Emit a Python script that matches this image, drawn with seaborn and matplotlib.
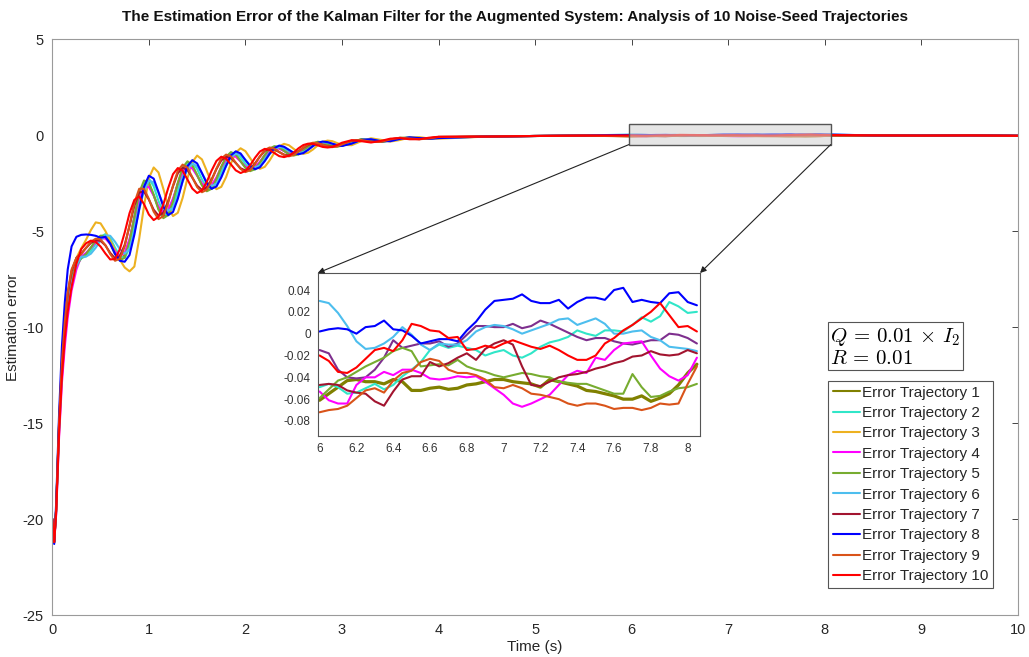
import matplotlib
matplotlib.use("Agg")
import matplotlib.pyplot as plt
import pandas as pd
import seaborn as sns
from matplotlib.lines import Line2D
from matplotlib.patches import Rectangle, ConnectionPatch

# ---------------- data ----------------
time_transient = [0.0, 0.02, 0.04, 0.07, 0.10, 0.13, 0.16, 0.20, 0.25,
                  0.30, 0.35, 0.40, 0.45, 0.50, 0.55, 0.60, 0.65, 0.70, 0.75,
                  0.80, 0.85, 0.90, 0.95, 1.00, 1.05, 1.10, 1.15, 1.20, 1.25,
                  1.30, 1.35, 1.40, 1.45, 1.50, 1.55, 1.60, 1.65, 1.70, 1.75,
                  1.80, 1.85, 1.90, 1.95, 2.00, 2.05, 2.10, 2.15, 2.20, 2.25,
                  2.30, 2.35, 2.40, 2.45, 2.50, 2.55, 2.60, 2.65, 2.70, 2.75,
                  2.80, 2.85, 2.90, 2.95, 3.00,
                  3.1, 3.2, 3.3, 3.4, 3.5, 3.6, 3.7, 3.8, 3.9, 4.0]
time_settle = [4.5, 5.0, 5.5]
settle_err = [-0.08, -0.05, -0.03]
time_zoom = [6.00, 6.05, 6.10, 6.15, 6.20, 6.25, 6.30, 6.35, 6.40, 6.45,
             6.50, 6.55, 6.60, 6.65, 6.70, 6.75, 6.80, 6.85, 6.90, 6.95,
             7.00, 7.05, 7.10, 7.15, 7.20, 7.25, 7.30, 7.35, 7.40, 7.45,
             7.50, 7.55, 7.60, 7.65, 7.70, 7.75, 7.80, 7.85, 7.90, 7.95,
             8.00, 8.05]
time_end = [8.5, 9.0, 9.5, 10.0]
end_err = [-0.02, -0.03, -0.02, -0.04]

err_1 = [-20.0, -21.2, -19.5, -15.2, -12.0, -10.0, -8.6, -7.4, -6.7,
         -6.38, -6.18, -5.87, -5.53, -5.30, -5.31, -5.66, -6.15, -6.44, -6.28,
         -5.50, -4.29, -3.10, -2.50, -2.55, -3.13, -3.83, -4.22, -4.06, -3.40,
         -2.52, -1.78, -1.47, -1.63, -2.10, -2.59, -2.85, -2.72, -2.27, -1.67,
         -1.18, -0.96, -1.06, -1.37, -1.68, -1.83, -1.73, -1.43, -1.05, -0.74,
         -0.62, -0.67, -0.83, -0.98, -1.04, -0.97, -0.81, -0.61, -0.45, -0.37,
         -0.40, -0.48, -0.56, -0.59, -0.55,
         -0.36, -0.23, -0.28, -0.36, -0.28, -0.16, -0.14, -0.20, -0.20, -0.12]
err_2 = [-20.0, -21.2, -19.6, -15.3, -12.2, -10.2, -8.8, -7.6, -6.8,
         -6.42, -6.31, -6.04, -5.66, -5.31, -5.16, -5.38, -5.87, -6.31, -6.41,
         -5.87, -4.73, -3.42, -2.51, -2.26, -2.67, -3.43, -4.06, -4.19, -3.75,
         -2.91, -2.04, -1.48, -1.42, -1.77, -2.31, -2.74, -2.81, -2.50, -1.93,
         -1.35, -0.97, -0.92, -1.16, -1.50, -1.76, -1.79, -1.57, -1.20, -0.84,
         -0.62, -0.59, -0.71, -0.89, -1.00, -1.00, -0.88, -0.69, -0.50, -0.37,
         -0.36, -0.42, -0.51, -0.57, -0.57,
         -0.40, -0.23, -0.25, -0.34, -0.30, -0.17, -0.13, -0.18, -0.20, -0.14]
err_3 = [-20.0, -21.2, -19.5, -15.0, -11.8, -9.8, -8.3, -7.1, -6.4,
         -5.90, -5.45, -4.95, -4.55, -4.60, -5.00, -5.50, -6.00, -6.50, -6.90,
         -7.10, -6.85, -5.40, -3.70, -2.25, -1.69, -1.95, -2.80, -3.72, -4.22,
         -4.05, -3.27, -2.25, -1.41, -1.07, -1.27, -1.87, -2.49, -2.82, -2.70,
         -2.19, -1.48, -0.91, -0.69, -0.84, -1.21, -1.59, -1.76, -1.66, -1.33,
         -0.92, -0.59, -0.46, -0.53, -0.72, -0.90, -0.98, -0.92, -0.75, -0.53,
         -0.36, -0.29, -0.32, -0.42, -0.51,
         -0.53, -0.32, -0.17, -0.25, -0.34, -0.26, -0.13, -0.11, -0.18, -0.19]
err_4 = [-20.0, -21.2, -19.8, -15.8, -12.9, -11.0, -9.5, -8.1, -7.0,
         -6.32, -6.14, -5.88, -5.59, -5.39, -5.39, -5.68, -6.08, -6.30, -6.13,
         -5.41, -4.32, -3.25, -2.69, -2.70, -3.16, -3.73, -4.05, -3.89, -3.31,
         -2.55, -1.90, -1.62, -1.74, -2.12, -2.52, -2.73, -2.61, -2.21, -1.69,
         -1.26, -1.06, -1.13, -1.38, -1.64, -1.76, -1.66, -1.39, -1.06, -0.79,
         -0.68, -0.71, -0.83, -0.96, -1.00, -0.93, -0.79, -0.62, -0.47, -0.40,
         -0.42, -0.48, -0.55, -0.57, -0.53,
         -0.36, -0.25, -0.29, -0.34, -0.27, -0.16, -0.15, -0.19, -0.19, -0.12]
err_5 = [-20.0, -21.2, -19.5, -15.2, -12.1, -10.1, -8.7, -7.5, -6.8,
         -6.41, -6.20, -5.86, -5.48, -5.24, -5.26, -5.65, -6.20, -6.53, -6.39,
         -5.56, -4.27, -3.00, -2.37, -2.45, -3.11, -3.89, -4.33, -4.17, -3.46,
         -2.50, -1.70, -1.37, -1.56, -2.08, -2.63, -2.93, -2.80, -2.30, -1.66,
         -1.13, -0.89, -1.01, -1.36, -1.71, -1.88, -1.78, -1.45, -1.04, -0.71,
         -0.58, -0.64, -0.82, -1.00, -1.07, -1.00, -0.82, -0.61, -0.43, -0.35,
         -0.39, -0.48, -0.57, -0.60, -0.56,
         -0.36, -0.22, -0.28, -0.36, -0.28, -0.15, -0.14, -0.20, -0.20, -0.12]
err_6 = [-20.0, -21.2, -19.6, -15.4, -12.3, -10.3, -8.9, -7.7, -6.8,
         -6.34, -6.33, -6.18, -5.87, -5.48, -5.22, -5.25, -5.56, -5.95, -6.18,
         -5.92, -5.06, -3.90, -2.90, -2.38, -2.46, -3.01, -3.62, -3.95, -3.79,
         -3.21, -2.43, -1.78, -1.50, -1.62, -2.01, -2.44, -2.65, -2.53, -2.13,
         -1.62, -1.17, -0.97, -1.05, -1.31, -1.57, -1.68, -1.59, -1.32, -1.00,
         -0.74, -0.62, -0.66, -0.78, -0.91, -0.95, -0.89, -0.75, -0.58, -0.43,
         -0.38, -0.39, -0.46, -0.52, -0.54,
         -0.43, -0.26, -0.23, -0.31, -0.31, -0.20, -0.14, -0.16, -0.19, -0.15]
err_7 = [-20.0, -21.2, -19.5, -15.1, -11.9, -9.8, -8.3, -7.1, -6.4,
         -6.17, -5.88, -5.62, -5.48, -5.51, -5.75, -6.14, -6.42, -6.30, -5.72,
         -4.73, -3.68, -2.99, -2.95, -3.36, -3.89, -4.20, -4.05, -3.45, -2.67,
         -1.99, -1.70, -1.82, -2.22, -2.64, -2.86, -2.73, -2.31, -1.77, -1.32,
         -1.13, -1.19, -1.46, -1.73, -1.85, -1.76, -1.47, -1.12, -0.83, -0.71,
         -0.75, -0.89, -1.02, -1.07, -1.00, -0.84, -0.66, -0.51, -0.43, -0.44,
         -0.51, -0.59, -0.61, -0.57, -0.48,
         -0.30, -0.27, -0.34, -0.34, -0.23, -0.15, -0.18, -0.21, -0.17, -0.10]
err_8 = [-20.0, -21.3, -19.2, -14.6, -11.0, -8.7, -7.0, -5.8, -5.3,
         -5.20, -5.18, -5.20, -5.25, -5.35, -5.30, -5.65, -6.20, -6.55, -6.60,
         -6.25, -5.19, -3.86, -2.70, -2.12, -2.27, -2.97, -3.74, -4.17, -4.01,
         -3.32, -2.39, -1.62, -1.31, -1.48, -1.98, -2.52, -2.80, -2.68, -2.21,
         -1.60, -1.06, -0.85, -0.96, -1.30, -1.62, -1.78, -1.68, -1.36, -0.98,
         -0.68, -0.55, -0.61, -0.77, -0.93, -1.00, -0.94, -0.77, -0.57, -0.40,
         -0.34, -0.37, -0.45, -0.53, -0.57,
         -0.45, -0.25, -0.22, -0.32, -0.32, -0.20, -0.12, -0.16, -0.20, -0.16]
err_9 = [-20.0, -21.2, -19.5, -15.0, -11.8, -9.7, -8.2, -7.0, -6.4,
         -6.20, -5.87, -5.56, -5.40, -5.44, -5.73, -6.20, -6.55, -6.44, -5.80,
         -4.70, -3.54, -2.80, -2.80, -3.33, -3.99, -4.38, -4.22, -3.54, -2.64,
         -1.86, -1.54, -1.70, -2.20, -2.71, -2.98, -2.85, -2.37, -1.75, -1.23,
         -1.02, -1.11, -1.44, -1.77, -1.93, -1.83, -1.51, -1.11, -0.78, -0.65,
         -0.71, -0.88, -1.04, -1.11, -1.04, -0.86, -0.65, -0.48, -0.40, -0.42,
         -0.51, -0.60, -0.63, -0.59, -0.49,
         -0.29, -0.26, -0.35, -0.36, -0.23, -0.14, -0.18, -0.22, -0.18, -0.10]
err_10 = [-20.0, -21.2, -19.7, -15.6, -12.6, -10.6, -9.2, -7.9, -6.7,
          -5.94, -5.64, -5.50, -5.57, -5.81, -6.17, -6.48, -6.46, -5.95, -5.08,
          -4.07, -3.38, -3.20, -3.60, -4.14, -4.43, -4.26, -3.62, -2.77, -2.04,
          -1.72, -1.86, -2.32, -2.79, -3.02, -2.89, -2.44, -1.85, -1.35, -1.13,
          -1.24, -1.53, -1.84, -1.98, -1.87, -1.57, -1.18, -0.86, -0.72, -0.78,
          -0.94, -1.10, -1.15, -1.08, -0.91, -0.69, -0.52, -0.45, -0.46, -0.54,
          -0.62, -0.65, -0.62, -0.52, -0.40,
          -0.27, -0.32, -0.39, -0.31, -0.19, -0.16, -0.22, -0.22, -0.14, -0.09]

zoom_1 = [-0.061, -0.055, -0.049, -0.043, -0.042, -0.044, -0.044, -0.046, -0.042, -0.044,
          -0.052, -0.052, -0.050, -0.049, -0.051, -0.050, -0.047, -0.046, -0.044, -0.042,
          -0.042, -0.044, -0.045, -0.046, -0.049, -0.042, -0.044, -0.046, -0.048, -0.052,
          -0.053, -0.055, -0.057, -0.060, -0.060, -0.057, -0.062, -0.059, -0.055, -0.047,
          -0.036, -0.028]
zoom_2 = [-0.049, -0.046, -0.049, -0.055, -0.054, -0.050, -0.046, -0.051, -0.047, -0.039,
          -0.033, -0.026, -0.015, -0.010, -0.013, -0.011, -0.013, -0.015, -0.020, -0.017,
          -0.015, -0.020, -0.022, -0.018, -0.012, -0.008, -0.006, -0.003, 0.003, 0.000,
          -0.002, 0.003, 0.003, 0.002, 0.008, 0.015, 0.011, 0.016, 0.029, 0.025,
          0.019, 0.020]
zoom_3 = [-0.015, -0.018, -0.033, -0.040, -0.041, -0.040, -0.033, -0.022, -0.006, -0.013,
          -0.011, -0.009, -0.009, -0.007, -0.012, -0.009, -0.001, 0.007, 0.007, 0.006,
          0.006, 0.009, 0.005, 0.007, 0.012, 0.009, 0.005, 0.001, -0.003, -0.006,
          -0.004, -0.004, -0.007, -0.009, -0.010, -0.008, -0.006, -0.006, 0.000, -0.001,
          -0.004, -0.009]
zoom_4 = [-0.053, -0.061, -0.064, -0.064, -0.047, -0.040, -0.040, -0.035, -0.038, -0.033,
          -0.033, -0.036, -0.041, -0.042, -0.041, -0.039, -0.040, -0.039, -0.044, -0.050,
          -0.056, -0.064, -0.067, -0.064, -0.060, -0.056, -0.047, -0.038, -0.034, -0.036,
          -0.022, -0.024, -0.015, -0.009, -0.008, -0.007, -0.020, -0.032, -0.039, -0.043,
          -0.038, -0.022]
zoom_5 = [-0.059, -0.051, -0.043, -0.040, -0.035, -0.030, -0.026, -0.022, -0.016, -0.013,
          -0.016, -0.030, -0.029, -0.028, -0.029, -0.024, -0.030, -0.033, -0.035, -0.038,
          -0.040, -0.038, -0.036, -0.037, -0.039, -0.040, -0.044, -0.045, -0.046, -0.046,
          -0.049, -0.052, -0.055, -0.055, -0.037, -0.049, -0.058, -0.057, -0.053, -0.050,
          -0.049, -0.046]
zoom_6 = [0.030, 0.028, 0.019, 0.007, -0.007, -0.014, -0.013, -0.009, -0.003, 0.006,
          -0.001, -0.010, -0.015, -0.009, -0.010, -0.010, -0.006, 0.002, 0.006, 0.008,
          0.007, 0.004, 0.000, 0.003, 0.006, 0.009, 0.013, 0.014, 0.008, 0.011,
          0.014, 0.009, 0.000, 0.000, 0.002, 0.003, -0.003, -0.006, -0.012, -0.013,
          -0.014, -0.016]
zoom_7 = [-0.047, -0.046, -0.047, -0.052, -0.054, -0.055, -0.062, -0.066, -0.053, -0.042,
          -0.039, -0.039, -0.026, -0.030, -0.027, -0.022, -0.018, -0.024, -0.014, -0.009,
          -0.006, -0.010, -0.030, -0.047, -0.048, -0.044, -0.040, -0.038, -0.037, -0.035,
          -0.032, -0.030, -0.027, -0.025, -0.021, -0.020, -0.016, -0.019, -0.020, -0.019,
          -0.015, -0.018]
zoom_8 = [0.002, 0.004, 0.005, 0.004, 0.000, 0.006, 0.007, 0.012, 0.004, 0.003,
          -0.002, -0.009, -0.007, -0.005, -0.005, -0.007, 0.003, 0.011, 0.022, 0.030,
          0.031, 0.032, 0.036, 0.030, 0.028, 0.028, 0.031, 0.023, 0.029, 0.033,
          0.033, 0.031, 0.040, 0.042, 0.029, 0.031, 0.029, 0.028, 0.037, 0.038,
          0.029, 0.026]
zoom_9 = [-0.072, -0.070, -0.069, -0.066, -0.059, -0.052, -0.050, -0.054, -0.043, -0.036,
          -0.034, -0.026, -0.023, -0.025, -0.033, -0.036, -0.036, -0.038, -0.042, -0.049,
          -0.050, -0.047, -0.050, -0.055, -0.056, -0.058, -0.060, -0.064, -0.066, -0.064,
          -0.064, -0.066, -0.069, -0.068, -0.068, -0.070, -0.068, -0.064, -0.065, -0.064,
          -0.046, -0.030]
zoom_10 = [-0.020, -0.025, -0.035, -0.036, -0.031, -0.023, -0.015, -0.013, -0.016, -0.006,
           0.009, 0.007, 0.003, 0.002, -0.004, -0.003, -0.015, -0.014, -0.011, -0.013,
           -0.009, -0.006, -0.009, -0.012, -0.014, -0.011, -0.015, -0.020, -0.024, -0.024,
           -0.020, -0.009, -0.004, 0.003, 0.008, 0.014, 0.020, 0.028, 0.017, 0.006,
           0.007, 0.002]

labels = ["Error Trajectory %d" % i for i in range(1, 11)]
colors = ["#808000", "#30E6C8", "#EDB120", "#FF00FF", "#77AC30",
          "#4DBEEE", "#A2142F", "#0000FF", "#D95319", "#FF0000"]
inset_colors = ["#808000", "#30E6C8", "#7E2F8E", "#FF00FF", "#77AC30",
                "#4DBEEE", "#A2142F", "#0000FF", "#D95319", "#FF0000"]

transients = [err_1, err_2, err_3, err_4, err_5, err_6, err_7, err_8, err_9, err_10]
zooms = [zoom_1, zoom_2, zoom_3, zoom_4, zoom_5, zoom_6, zoom_7, zoom_8, zoom_9, zoom_10]

frames = []
for lab, tr, zm in zip(labels, transients, zooms):
    t = time_transient + time_settle + time_zoom + time_end
    v = tr + settle_err + zm + end_err
    frames.append(pd.DataFrame({"Time": t, "Error": v, "Trajectory": lab}))
df = pd.concat(frames, ignore_index=True)
df_zoom = df[(df["Time"] >= 5.9) & (df["Time"] <= 8.2)]

# ---------------- styling ----------------
sns.set_theme(style="white")
plt.rcParams["font.family"] = ["Liberation Sans", "DejaVu Sans"]
plt.rcParams["mathtext.fontset"] = "cm"
plt.rcParams["axes.unicode_minus"] = False

fig = plt.figure(figsize=(10.29, 6.57), dpi=100)
ax = fig.add_axes([0.0508, 0.0639, 0.9385, 0.8767])

sns.lineplot(data=df, x="Time", y="Error", hue="Trajectory", hue_order=labels,
             palette=dict(zip(labels, colors)), estimator=None, sort=False,
             linewidth=1.5, legend=False, ax=ax)

ax.set_xlim(0, 10)
ax.set_ylim(-25, 5)
ax.set_xticks(range(0, 11))
ax.set_yticks([-25, -20, -15, -10, -5, 0, 5])
ax.tick_params(direction="in", length=4, top=True, right=True, pad=6,
               labelsize=10.5, colors="#262626", width=0.6)
for s in ax.spines.values():
    s.set_color("#9a9a9a")
    s.set_linewidth(0.8)
ax.set_xlabel("Time (s)", fontsize=11, color="#262626", labelpad=2)
ax.set_ylabel("Estimation error", fontsize=11, color="#262626", labelpad=2)
ax.set_title("The Estimation Error of the Kalman Filter for the Augmented System: "
             "Analysis of 10 Noise-Seed Trajectories",
             fontsize=11, fontweight="bold", pad=13, color="#111111", x=0.479)

# zoom rectangle
rect = Rectangle((5.97, -0.5), 2.09, 1.05, facecolor=(0.82, 0.82, 0.82, 0.55),
                 edgecolor="#555555", linewidth=1.0, zorder=5)
ax.add_patch(rect)

# inset
axins = fig.add_axes([0.3088, 0.3368, 0.3715, 0.2477])
sns.lineplot(data=df_zoom, x="Time", y="Error", hue="Trajectory", hue_order=labels,
             palette=dict(zip(labels, inset_colors)), estimator=None, sort=False,
             linewidth=1.5, legend=False, ax=axins)
axins.lines[0].set_linewidth(2.3)
axins.set_xlim(5.99, 8.067)
axins.set_ylim(-0.0935, 0.0556)
axins.set_xticks([6, 6.2, 6.4, 6.6, 6.8, 7, 7.2, 7.4, 7.6, 7.8, 8])
axins.set_xticklabels(["6", "6.2", "6.4", "6.6", "6.8", "7", "7.2", "7.4", "7.6", "7.8", "8"])
axins.set_yticks([-0.08, -0.06, -0.04, -0.02, 0, 0.02, 0.04])
axins.set_yticklabels(["-0.08", "-0.06", "-0.04", "-0.02", "0", "0.02", "0.04"])
axins.tick_params(direction="in", length=0, labelsize=8.5, colors="#333333", pad=5)
axins.set_xlabel("")
axins.set_ylabel("")
for s in axins.spines.values():
    s.set_color("#555555")
    s.set_linewidth(0.8)

for xa, xb in [((5.97, -0.5), (0, 1)), ((8.06, -0.5), (1, 1))]:
    con = ConnectionPatch(xyA=xa, coordsA=ax.transData, xyB=xb, coordsB=axins.transAxes,
                          arrowstyle="-|>", mutation_scale=9, linewidth=0.8,
                          color="#222222", zorder=6)
    fig.add_artist(con)

# annotation box
fig.text(830 / 1029, 1 - 326 / 657,
         "$Q\\,=\\,0.01\\,\\times\\,I_2$\n$R\\,=\\,0.01$",
         fontsize=15, va="top", ha="left", color="black", linespacing=1.05,
         bbox=dict(boxstyle="square,pad=0.12", facecolor="white",
                   edgecolor="#555555", linewidth=0.8))

# legend
handles = [Line2D([0], [0], color=c, lw=1.5) for c in colors]
leg = ax.legend(handles, labels, loc="upper left",
                bbox_to_anchor=(828 / 1029, 1 - 381 / 657),
                bbox_transform=fig.transFigure, frameon=True, fancybox=False,
                edgecolor="#555555", framealpha=1, fontsize=11,
                handlelength=1.8, handletextpad=0.15, labelspacing=0.42,
                borderpad=0.3, borderaxespad=0)
leg.get_frame().set_linewidth(0.8)

fig.savefig("out.png", dpi=100, facecolor="white")
